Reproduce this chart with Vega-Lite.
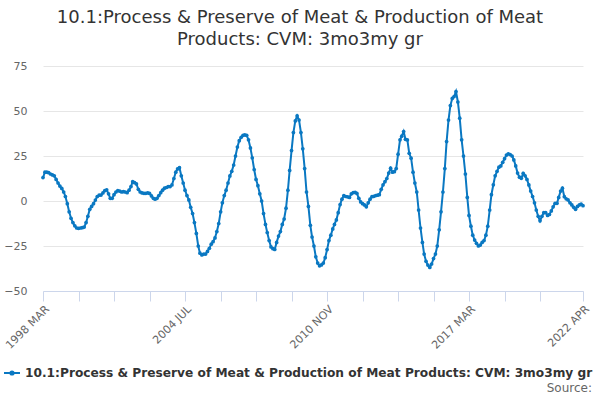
{
  "$schema": "https://vega.github.io/schema/vega-lite/v6.json",
  "width": 540,
  "height": 225,
  "autosize": {"type": "none"},
  "padding": {"left": 43, "top": 66, "right": 17, "bottom": 109},
  "background": "white",
  "title": {
    "text": ["10.1:Process & Preserve of Meat & Production of Meat", "Products: CVM: 3mo3my gr"],
    "font": "DejaVu Sans",
    "fontSize": 18,
    "fontWeight": "normal",
    "color": "#333333",
    "anchor": "middle",
    "dx": -13,
    "offset": 11,
    "lineHeight": 22
  },
  "data": {"values": [
    {"date": "1998-03", "value": 13}, {"date": "1998-04", "value": 16}, {"date": "1998-05", "value": 16}, {"date": "1998-06", "value": 15.7},
    {"date": "1998-07", "value": 15}, {"date": "1998-08", "value": 14.5}, {"date": "1998-09", "value": 14}, {"date": "1998-10", "value": 12},
    {"date": "1998-11", "value": 10}, {"date": "1998-12", "value": 8.3},
    {"date": "1999-01", "value": 7}, {"date": "1999-02", "value": 5}, {"date": "1999-03", "value": 2.5}, {"date": "1999-04", "value": -1.5},
    {"date": "1999-05", "value": -6}, {"date": "1999-06", "value": -9.6}, {"date": "1999-07", "value": -12}, {"date": "1999-08", "value": -13.8},
    {"date": "1999-09", "value": -15}, {"date": "1999-10", "value": -15.2}, {"date": "1999-11", "value": -15}, {"date": "1999-12", "value": -14.8},
    {"date": "2000-01", "value": -14.5}, {"date": "2000-02", "value": -12}, {"date": "2000-03", "value": -8.5}, {"date": "2000-04", "value": -4.6},
    {"date": "2000-05", "value": -3}, {"date": "2000-06", "value": -1.5}, {"date": "2000-07", "value": 0.5}, {"date": "2000-08", "value": 2.5},
    {"date": "2000-09", "value": 3.2}, {"date": "2000-10", "value": 3.3}, {"date": "2000-11", "value": 4.5}, {"date": "2000-12", "value": 5.7},
    {"date": "2001-01", "value": 6.2}, {"date": "2001-02", "value": 4}, {"date": "2001-03", "value": 1.5}, {"date": "2001-04", "value": 1.5},
    {"date": "2001-05", "value": 3.5}, {"date": "2001-06", "value": 5}, {"date": "2001-07", "value": 5.7}, {"date": "2001-08", "value": 5.5},
    {"date": "2001-09", "value": 5}, {"date": "2001-10", "value": 5.2}, {"date": "2001-11", "value": 5}, {"date": "2001-12", "value": 4.6},
    {"date": "2002-01", "value": 6}, {"date": "2002-02", "value": 8}, {"date": "2002-03", "value": 10.7}, {"date": "2002-04", "value": 10.2},
    {"date": "2002-05", "value": 9.5}, {"date": "2002-06", "value": 6.5}, {"date": "2002-07", "value": 5}, {"date": "2002-08", "value": 4.5},
    {"date": "2002-09", "value": 4.3}, {"date": "2002-10", "value": 4.3}, {"date": "2002-11", "value": 4.5}, {"date": "2002-12", "value": 4.2},
    {"date": "2003-01", "value": 2.8}, {"date": "2003-02", "value": 1.5}, {"date": "2003-03", "value": 1}, {"date": "2003-04", "value": 1.5},
    {"date": "2003-05", "value": 3}, {"date": "2003-06", "value": 4.6}, {"date": "2003-07", "value": 6}, {"date": "2003-08", "value": 7.1},
    {"date": "2003-09", "value": 7.5}, {"date": "2003-10", "value": 8}, {"date": "2003-11", "value": 8}, {"date": "2003-12", "value": 8.9},
    {"date": "2004-01", "value": 12.5}, {"date": "2004-02", "value": 16}, {"date": "2004-03", "value": 17.8}, {"date": "2004-04", "value": 18.5},
    {"date": "2004-05", "value": 14}, {"date": "2004-06", "value": 10}, {"date": "2004-07", "value": 6}, {"date": "2004-08", "value": 3},
    {"date": "2004-09", "value": 0.6}, {"date": "2004-10", "value": -3.5}, {"date": "2004-11", "value": -7}, {"date": "2004-12", "value": -12},
    {"date": "2005-01", "value": -18}, {"date": "2005-02", "value": -25}, {"date": "2005-03", "value": -29}, {"date": "2005-04", "value": -30},
    {"date": "2005-05", "value": -29.5}, {"date": "2005-06", "value": -29.5}, {"date": "2005-07", "value": -28}, {"date": "2005-08", "value": -26.3},
    {"date": "2005-09", "value": -24}, {"date": "2005-10", "value": -22.6}, {"date": "2005-11", "value": -20.5}, {"date": "2005-12", "value": -17},
    {"date": "2006-01", "value": -12.5}, {"date": "2006-02", "value": -6}, {"date": "2006-03", "value": -1}, {"date": "2006-04", "value": 3},
    {"date": "2006-05", "value": 6}, {"date": "2006-06", "value": 10}, {"date": "2006-07", "value": 13.9}, {"date": "2006-08", "value": 16.5},
    {"date": "2006-09", "value": 20}, {"date": "2006-10", "value": 25}, {"date": "2006-11", "value": 30}, {"date": "2006-12", "value": 33.5},
    {"date": "2007-01", "value": 35.4}, {"date": "2007-02", "value": 36.5}, {"date": "2007-03", "value": 36.7}, {"date": "2007-04", "value": 36.5},
    {"date": "2007-05", "value": 34}, {"date": "2007-06", "value": 29.5}, {"date": "2007-07", "value": 24}, {"date": "2007-08", "value": 17.5},
    {"date": "2007-09", "value": 12}, {"date": "2007-10", "value": 8.5}, {"date": "2007-11", "value": 4}, {"date": "2007-12", "value": 0},
    {"date": "2008-01", "value": -7}, {"date": "2008-02", "value": -13}, {"date": "2008-03", "value": -17.5}, {"date": "2008-04", "value": -22},
    {"date": "2008-05", "value": -25.5}, {"date": "2008-06", "value": -26.5}, {"date": "2008-07", "value": -26.9}, {"date": "2008-08", "value": -23},
    {"date": "2008-09", "value": -19.5}, {"date": "2008-10", "value": -17}, {"date": "2008-11", "value": -13}, {"date": "2008-12", "value": -10},
    {"date": "2009-01", "value": -4}, {"date": "2009-02", "value": 6}, {"date": "2009-03", "value": 17}, {"date": "2009-04", "value": 28},
    {"date": "2009-05", "value": 38}, {"date": "2009-06", "value": 44.5}, {"date": "2009-07", "value": 47.3}, {"date": "2009-08", "value": 45},
    {"date": "2009-09", "value": 38}, {"date": "2009-10", "value": 29}, {"date": "2009-11", "value": 18}, {"date": "2009-12", "value": 5},
    {"date": "2010-01", "value": -3}, {"date": "2010-02", "value": -13.5}, {"date": "2010-03", "value": -20}, {"date": "2010-04", "value": -25},
    {"date": "2010-05", "value": -31}, {"date": "2010-06", "value": -34.5}, {"date": "2010-07", "value": -36}, {"date": "2010-08", "value": -35.5},
    {"date": "2010-09", "value": -34.5}, {"date": "2010-10", "value": -31.5}, {"date": "2010-11", "value": -27}, {"date": "2010-12", "value": -22},
    {"date": "2011-01", "value": -19}, {"date": "2011-02", "value": -15.5}, {"date": "2011-03", "value": -13}, {"date": "2011-04", "value": -10.5},
    {"date": "2011-05", "value": -6.5}, {"date": "2011-06", "value": -2}, {"date": "2011-07", "value": 1}, {"date": "2011-08", "value": 3},
    {"date": "2011-09", "value": 2.5}, {"date": "2011-10", "value": 2.3}, {"date": "2011-11", "value": 2}, {"date": "2011-12", "value": 4},
    {"date": "2012-01", "value": 4.6}, {"date": "2012-02", "value": 4.8}, {"date": "2012-03", "value": 4.2}, {"date": "2012-04", "value": 1.5},
    {"date": "2012-05", "value": -0.5}, {"date": "2012-06", "value": -1.5}, {"date": "2012-07", "value": -2.2}, {"date": "2012-08", "value": -3.2},
    {"date": "2012-09", "value": -1}, {"date": "2012-10", "value": 1}, {"date": "2012-11", "value": 2.4}, {"date": "2012-12", "value": 2.6},
    {"date": "2013-01", "value": 3}, {"date": "2013-02", "value": 3.2}, {"date": "2013-03", "value": 3.5}, {"date": "2013-04", "value": 6.5},
    {"date": "2013-05", "value": 9}, {"date": "2013-06", "value": 10.7}, {"date": "2013-07", "value": 12.5}, {"date": "2013-08", "value": 15.5},
    {"date": "2013-09", "value": 18.2}, {"date": "2013-10", "value": 16}, {"date": "2013-11", "value": 16.3}, {"date": "2013-12", "value": 18},
    {"date": "2014-01", "value": 26}, {"date": "2014-02", "value": 34}, {"date": "2014-03", "value": 36}, {"date": "2014-04", "value": 38.6},
    {"date": "2014-05", "value": 34.3}, {"date": "2014-06", "value": 33.9}, {"date": "2014-07", "value": 26.5}, {"date": "2014-08", "value": 23.8},
    {"date": "2014-09", "value": 16}, {"date": "2014-10", "value": 10}, {"date": "2014-11", "value": 5}, {"date": "2014-12", "value": -5},
    {"date": "2015-01", "value": -15}, {"date": "2015-02", "value": -23}, {"date": "2015-03", "value": -29.5}, {"date": "2015-04", "value": -33.5},
    {"date": "2015-05", "value": -35.6}, {"date": "2015-06", "value": -36.9}, {"date": "2015-07", "value": -35}, {"date": "2015-08", "value": -32},
    {"date": "2015-09", "value": -29.5}, {"date": "2015-10", "value": -25}, {"date": "2015-11", "value": -16}, {"date": "2015-12", "value": -6},
    {"date": "2016-01", "value": 5}, {"date": "2016-02", "value": 18}, {"date": "2016-03", "value": 33}, {"date": "2016-04", "value": 45},
    {"date": "2016-05", "value": 53}, {"date": "2016-06", "value": 57}, {"date": "2016-07", "value": 58}, {"date": "2016-08", "value": 60.8},
    {"date": "2016-09", "value": 55}, {"date": "2016-10", "value": 46}, {"date": "2016-11", "value": 34}, {"date": "2016-12", "value": 25},
    {"date": "2017-01", "value": 15}, {"date": "2017-02", "value": 2}, {"date": "2017-03", "value": -8}, {"date": "2017-04", "value": -14},
    {"date": "2017-05", "value": -19}, {"date": "2017-06", "value": -21.7}, {"date": "2017-07", "value": -23.5}, {"date": "2017-08", "value": -25},
    {"date": "2017-09", "value": -24.5}, {"date": "2017-10", "value": -23}, {"date": "2017-11", "value": -22}, {"date": "2017-12", "value": -19},
    {"date": "2018-01", "value": -14}, {"date": "2018-02", "value": -5}, {"date": "2018-03", "value": 3.5}, {"date": "2018-04", "value": 9},
    {"date": "2018-05", "value": 14}, {"date": "2018-06", "value": 16.5}, {"date": "2018-07", "value": 18.8}, {"date": "2018-08", "value": 19.5},
    {"date": "2018-09", "value": 21.5}, {"date": "2018-10", "value": 23.5}, {"date": "2018-11", "value": 25.5}, {"date": "2018-12", "value": 26.2},
    {"date": "2019-01", "value": 25.8}, {"date": "2019-02", "value": 25}, {"date": "2019-03", "value": 22.8}, {"date": "2019-04", "value": 19.5},
    {"date": "2019-05", "value": 15.5}, {"date": "2019-06", "value": 13.2}, {"date": "2019-07", "value": 12.6}, {"date": "2019-08", "value": 15.4},
    {"date": "2019-09", "value": 14}, {"date": "2019-10", "value": 12}, {"date": "2019-11", "value": 8.9}, {"date": "2019-12", "value": 5.5},
    {"date": "2020-01", "value": 2.5}, {"date": "2020-02", "value": -1}, {"date": "2020-03", "value": -5}, {"date": "2020-04", "value": -8.5},
    {"date": "2020-05", "value": -11}, {"date": "2020-06", "value": -8.5}, {"date": "2020-07", "value": -6.5}, {"date": "2020-08", "value": -6.5},
    {"date": "2020-09", "value": -8}, {"date": "2020-10", "value": -7.5}, {"date": "2020-11", "value": -5.5}, {"date": "2020-12", "value": -3.2},
    {"date": "2021-01", "value": -1.3}, {"date": "2021-02", "value": -1.3}, {"date": "2021-03", "value": 2}, {"date": "2021-04", "value": 5.5},
    {"date": "2021-05", "value": 7.1}, {"date": "2021-06", "value": 2.4}, {"date": "2021-07", "value": 1.2}, {"date": "2021-08", "value": 0.6},
    {"date": "2021-09", "value": -1}, {"date": "2021-10", "value": -2.2}, {"date": "2021-11", "value": -3.5}, {"date": "2021-12", "value": -4.6},
    {"date": "2022-01", "value": -3}, {"date": "2022-02", "value": -2.2}, {"date": "2022-03", "value": -1.7}, {"date": "2022-04", "value": -2.6}
  ]},
  "mark": {"type": "line", "strokeWidth": 2, "point": {"filled": true, "size": 14}},
  "encoding": {
    "x": {
      "field": "date",
      "type": "temporal",
      "scale": {
        "type": "utc",
        "nice": false,
        "domain": [{"year": 1998, "month": 3, "date": 1, "utc": true}, {"year": 2022, "month": 4, "date": 1, "utc": true}]
      },
      "axis": {
        "title": null,
        "grid": false,
        "values": [
          {"year": 1998, "month": 3, "date": 1, "utc": true},
          {"year": 1999, "month": 10, "date": 1, "utc": true},
          {"year": 2001, "month": 5, "date": 1, "utc": true},
          {"year": 2002, "month": 12, "date": 1, "utc": true},
          {"year": 2004, "month": 7, "date": 1, "utc": true},
          {"year": 2006, "month": 2, "date": 1, "utc": true},
          {"year": 2007, "month": 9, "date": 1, "utc": true},
          {"year": 2009, "month": 4, "date": 1, "utc": true},
          {"year": 2010, "month": 11, "date": 1, "utc": true},
          {"year": 2012, "month": 6, "date": 1, "utc": true},
          {"year": 2014, "month": 1, "date": 1, "utc": true},
          {"year": 2015, "month": 8, "date": 1, "utc": true},
          {"year": 2017, "month": 3, "date": 1, "utc": true},
          {"year": 2018, "month": 10, "date": 1, "utc": true},
          {"year": 2020, "month": 5, "date": 1, "utc": true},
          {"year": 2022, "month": 4, "date": 1, "utc": true}
        ],
        "labelExpr": "((utcyear(datum.value) - 1998) * 12 + utcmonth(datum.value) - 2) % 76 == 0 || ((utcyear(datum.value) - 1998) * 12 + utcmonth(datum.value) - 2) == 289 ? upper(utcFormat(datum.value, '%Y %b')) : ''",
        "labelAngle": -45,
        "labelFontSize": 11,
        "labelColor": "#666666",
        "labelPadding": 2,
        "labelOverlap": false,
        "labelFlush": false,
        "domainColor": "#ccd6eb",
        "tickColor": "#ccd6eb",
        "tickSize": 10
      }
    },
    "y": {
      "field": "value",
      "type": "quantitative",
      "scale": {"domain": [-50, 75], "nice": false, "zero": false},
      "axis": {
        "title": null,
        "values": [-50, -25, 0, 25, 50, 75],
        "domain": false,
        "ticks": false,
        "gridColor": "#e6e6e6",
        "labelColor": "#666666",
        "labelFontSize": 11,
        "labelPadding": 16
      }
    },
    "color": {
      "datum": "10.1:Process & Preserve of Meat & Production of Meat Products: CVM: 3mo3my gr",
      "scale": {"range": ["#0a78c2"]},
      "legend": {
        "orient": "none",
        "legendX": -40,
        "legendY": 298,
        "title": "Source:",
        "titleOrient": "bottom",
        "titleAnchor": "end",
        "titleFontWeight": "normal",
        "titleColor": "#666666",
        "titleFontSize": 12,
        "titlePadding": 4,
        "labelFontSize": 12.2,
        "labelFontWeight": "bold",
        "labelColor": "#333333",
        "labelLimit": 1000,
        "symbolType": "M-1,0H1M-0.2,0A0.2,0.2 0 1,0 0.2,0A0.2,0.2 0 1,0 -0.2,0",
        "symbolSize": 256,
        "symbolStrokeWidth": 2,
        "symbolFillColor": "#0a78c2",
        "symbolStrokeColor": "#0a78c2"
      }
    }
  },
  "config": {"view": {"stroke": null}, "font": "DejaVu Sans"}
}
